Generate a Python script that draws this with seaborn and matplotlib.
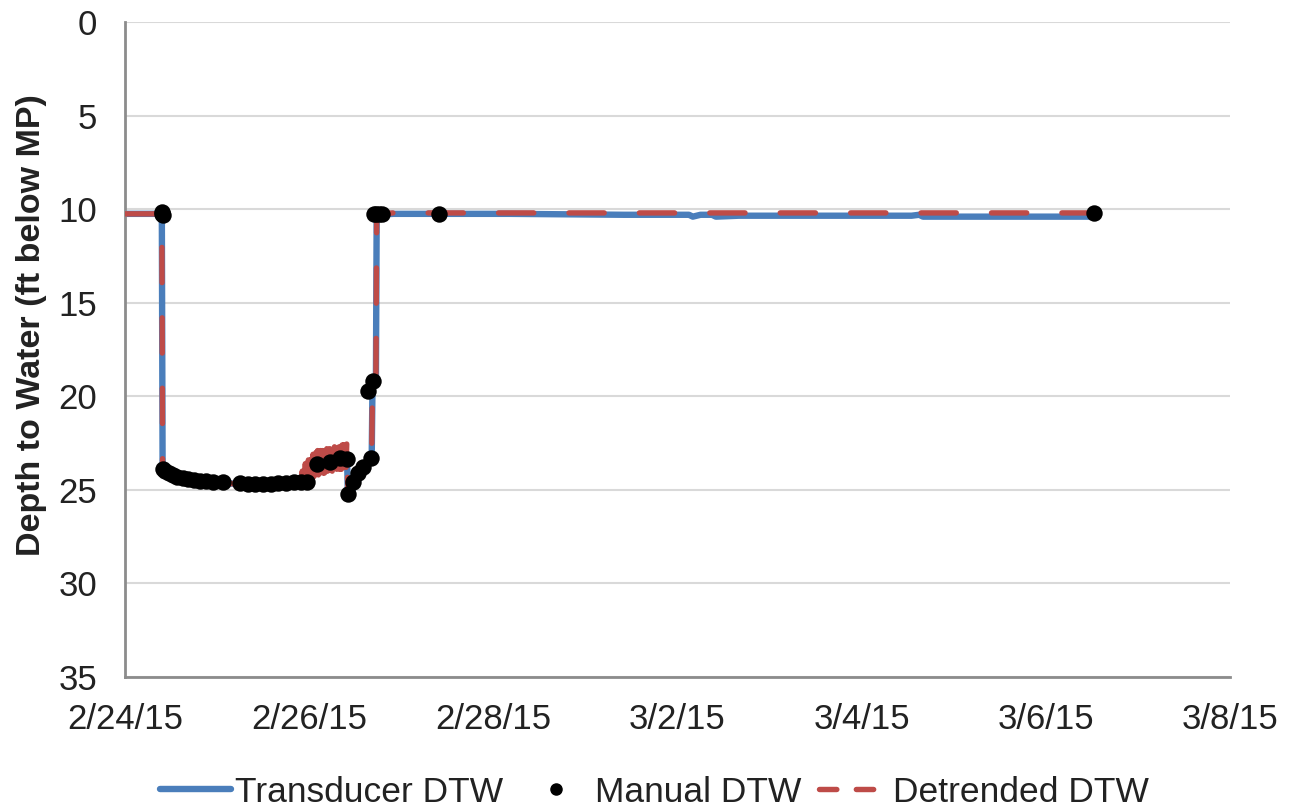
import pandas as pd
import matplotlib
matplotlib.use("Agg")
import matplotlib.pyplot as plt
import matplotlib.dates as mdates
from matplotlib.lines import Line2D
from matplotlib.ticker import FixedLocator, FuncFormatter, MultipleLocator
import seaborn as sns

# Data: hours after 2/24/15 00:00, depth to water (ft below MP)
transducer_hours = [0, 9.6, 9.8, 11, 14, 18, 24, 30, 36, 42, 46, 48, 50, 53, 56, 57.9,
                    58.1, 60, 62, 64.3, 64.5, 65.4, 65.6, 70, 100, 130, 147, 148, 150,
                    153, 154, 160, 190, 205, 207, 208, 215, 220, 252.6]
transducer_dtw = [10.25, 10.25, 23.9, 24.1, 24.3, 24.45, 24.6, 24.7, 24.75, 24.7, 24.6,
                  24.3, 24.0, 23.8, 23.6, 23.5, 25.3, 24.8, 24.0, 23.3, 19.6, 19.2, 10.3,
                  10.25, 10.25, 10.3, 10.3, 10.4, 10.3, 10.3, 10.4, 10.35, 10.35, 10.35,
                  10.3, 10.4, 10.4, 10.4, 10.4]

detrended_hours = [0, 9.6, 9.8, 11, 14, 18, 24, 30, 36, 42, 45,
                   46.0, 46.2, 46.4, 46.6, 46.8, 47.0, 47.2, 47.4, 47.6, 47.8,
                   48.0, 48.2, 48.4, 48.6, 48.8, 49.0, 49.2, 49.4, 49.6, 49.8,
                   50.0, 50.2, 50.4, 50.6, 50.8, 51.0, 51.2, 51.4, 51.6, 51.8,
                   52.0, 52.2, 52.4, 52.6, 52.8, 53.0, 53.2, 53.4, 53.6, 53.8,
                   54.0, 54.2, 54.4, 54.6, 54.8, 55.0, 55.2, 55.4, 55.6, 55.8,
                   56.0, 56.2, 56.4, 56.6, 56.8, 57.0, 57.2, 57.4, 57.6, 57.8,
                   57.9, 58.1, 60, 62, 64.3, 64.5, 65.4, 65.6, 70, 100, 130, 160, 190,
                   220, 252.6]
detrended_dtw = [10.25, 10.25, 23.9, 24.1, 24.3, 24.45, 24.6, 24.7, 24.75, 24.65, 24.6,
                 24.7, 24.0, 24.7, 23.8, 24.6, 23.6, 24.6, 23.5, 24.5, 23.4,
                 24.4, 23.3, 24.4, 23.2, 24.3, 23.1, 24.3, 23.0, 24.2, 23.0,
                 24.2, 22.9, 24.2, 22.9, 24.1, 22.9, 24.1, 22.9, 24.1, 22.8,
                 24.1, 22.9, 24.0, 22.8, 24.0, 22.8, 24.0, 22.8, 24.0, 22.8,
                 24.0, 22.8, 24.0, 22.7, 23.9, 22.7, 23.9, 22.7, 23.9, 22.7,
                 23.9, 22.7, 23.9, 22.6, 23.9, 22.6, 23.8, 22.5, 23.8, 22.5,
                 23.5, 25.1, 24.7, 23.9, 23.2, 19.4, 19.0, 10.25, 10.2, 10.2, 10.2,
                 10.2, 10.2, 10.2, 10.2]

manual_hours = [9.6, 9.7, 9.8, 9.9, 10.5, 11.5, 12.5, 13.5, 15, 16.5, 18, 19.5, 21, 23,
                25.6, 30, 32, 34, 36, 38, 40, 42, 44, 46, 47.5, 50, 53.5, 56, 57.9, 58.2,
                59.5, 60.8, 62, 64, 63.4, 64.7, 64.8, 65.5, 66.2, 67, 81.9, 252.5]
manual_dtw = [10.15, 10.25, 10.3, 23.9, 24.0, 24.1, 24.2, 24.3, 24.35, 24.4, 24.45, 24.5,
              24.55, 24.6, 24.6, 24.65, 24.7, 24.7, 24.7, 24.7, 24.65, 24.65, 24.6, 24.6,
              24.6, 23.6, 23.5, 23.3, 23.35, 25.2, 24.6, 24.1, 23.8, 23.3, 19.7, 19.2,
              10.25, 10.25, 10.25, 10.25, 10.25, 10.2]

series_names = ["Transducer DTW", "Manual DTW", "Detrended DTW"]

start = pd.Timestamp("2015-02-24")
trans_df = pd.DataFrame({"time": start + pd.to_timedelta(transducer_hours, unit="h"),
                         "dtw": transducer_dtw})
detr_df = pd.DataFrame({"time": start + pd.to_timedelta(detrended_hours, unit="h"),
                        "dtw": detrended_dtw})
man_df = pd.DataFrame({"time": start + pd.to_timedelta(manual_hours, unit="h"),
                       "dtw": manual_dtw})

blue = "#4A7EBB"
red = "#BE4B48"
grey = "#8C8C8C"
fs = 25.5

sns.set_style("white")
plt.rcParams["font.family"] = ["Liberation Sans", "DejaVu Sans"]
plt.rcParams["path.simplify"] = False  # keep the noisy detrended zigzag
plt.rcParams["text.color"] = "#222222"
plt.rcParams["axes.labelcolor"] = "#222222"
plt.rcParams["xtick.color"] = grey
plt.rcParams["ytick.color"] = grey
plt.rcParams["xtick.labelcolor"] = "#222222"
plt.rcParams["ytick.labelcolor"] = "#222222"

fig = plt.figure(figsize=(12.94, 8.10), dpi=100)
ax = fig.add_axes([0.0966, 0.1642, 0.8539, 0.8086])

sns.lineplot(data=trans_df, x="time", y="dtw", ax=ax, color=blue, lw=4.6,
             sort=False, estimator=None, legend=False)
sns.scatterplot(data=man_df, x="time", y="dtw", ax=ax, color="black", s=140,
                edgecolor="black", linewidth=0, legend=False, zorder=4)
sns.lineplot(data=detr_df, x="time", y="dtw", ax=ax, color=red, lw=3.9,
             sort=False, estimator=None, legend=False)
red_line = ax.lines[-1]
red_line.set_dashes((6.5, 6.5))
red_line.set_dash_capstyle("round")
red_line.set_zorder(3)

ax.set_ylim(35, 0)
ax.yaxis.set_major_locator(MultipleLocator(5))
ax.set_xlim(pd.Timestamp("2015-02-24"), pd.Timestamp("2015-03-08"))
major_days = pd.date_range("2015-02-24", "2015-03-08", freq="2D")
minor_days = pd.date_range("2015-02-24", "2015-03-08", freq="1D")
ax.xaxis.set_major_locator(FixedLocator(mdates.date2num(major_days)))
ax.xaxis.set_minor_locator(FixedLocator(mdates.date2num(minor_days)))


def date_label(v, pos):
    d = mdates.num2date(v)
    return f"{d.month}/{d.day}/{d.year % 100}"


ax.xaxis.set_major_formatter(FuncFormatter(date_label))

ax.grid(axis="y", color="#D9D9D9", lw=1.5)
ax.set_axisbelow(True)
for side in ["top", "right"]:
    ax.spines[side].set_visible(False)
for side in ["left", "bottom"]:
    ax.spines[side].set_color(grey)
    ax.spines[side].set_linewidth(2)

ax.tick_params(axis="x", which="both", direction="in", length=6, width=1.5,
               labelsize=25, pad=19)
ax.tick_params(axis="y", direction="out", length=7, width=1.5, labelsize=25, pad=13)
ax.set_xlabel("")
ax.set_ylabel("Depth to Water (ft below MP)", fontsize=24.5, fontweight="bold")
ax.yaxis.set_label_coords(-0.071, 0.537)

handles = [
    Line2D([], [], color=blue, lw=4.6, solid_capstyle="round"),
    Line2D([], [], color="black", marker="o", ls="none", markersize=8),
    Line2D([], [], color=red, lw=3.9, dashes=(3.2, 3.6), dash_capstyle="round"),
]
fig.legend(handles, series_names, loc="center", bbox_to_anchor=(0.506, 0.022), ncol=3,
           frameon=False, fontsize=fs, handlelength=2.0, handletextpad=0.1,
           columnspacing=0.5)

fig.savefig("out.png", dpi=100)
